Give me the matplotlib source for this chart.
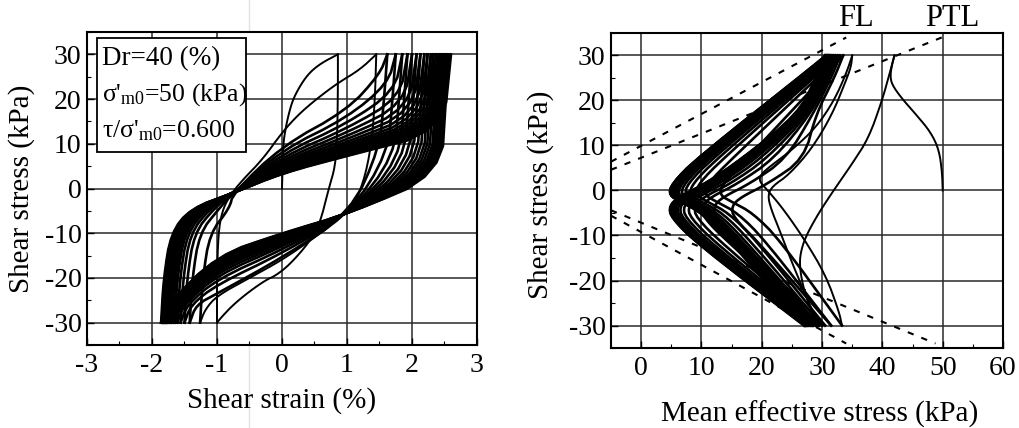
import numpy as np
import matplotlib
matplotlib.use("Agg")
import matplotlib.pyplot as plt
from matplotlib.ticker import MultipleLocator
from matplotlib.patches import Rectangle
from matplotlib.lines import Line2D

plt.rcParams['font.family'] = ['Liberation Serif', 'DejaVu Serif']
plt.rcParams['mathtext.fontset'] = 'custom'
plt.rcParams['mathtext.rm'] = 'Liberation Serif'
plt.rcParams['mathtext.it'] = 'Liberation Serif'
plt.rcParams['axes.unicode_minus'] = False

# ---------------- left panel: shear stress vs shear strain ----------------
# first two cycles, read point by point
load1_g = [0.0, 0.01, 0.02, 0.05, 0.1, 0.17, 0.3, 0.43, 0.6, 0.86]
load1_t = [0, 5, 10, 13, 16.5, 20, 23.5, 26, 28, 30]
unload1_g = [0.86, 0.86, 0.85, 0.82, 0.72, 0.58, 0.42, 0.12, -0.1, -0.24, -0.5, -0.75, -0.92, -1.0]
unload1_t = [30, 22, 12, 5, 0, -8, -12, -17, -19.5, -20.4, -23, -26, -28.6, -30]
load2_g = [-1.0, -1.0, -0.98, -0.92, -0.8, -0.6, -0.3, 0.0, 0.25, 0.53, 0.85, 1.2, 1.45]
load2_t = [-30, -20, -10, -5, -1.5, 2, 6.5, 12.5, 16.5, 20, 23.5, 26.6, 30]
unload2_g = [1.45, 1.43, 1.38, 1.25, 1.05, 0.5, 0.0, -0.5, -1.0, -1.18, -1.26]
unload2_t = [30, 20, 10, 1, -5, -11, -16, -20, -24, -27, -30]

# later cycles: strain at -30 / +30 kPa, stress where branches cross 0 % and 1 %
cyc_gbot = [-1.26, -1.42, -1.5, -1.56, -1.61, -1.65, -1.68, -1.71, -1.73, -1.75,
            -1.77, -1.78, -1.79, -1.8, -1.81, -1.82, -1.83, -1.84, -1.85, -1.86]
cyc_gtop = [1.62, 1.75, 1.85, 1.93, 2.0, 2.07, 2.13, 2.19, 2.24, 2.29,
            2.33, 2.37, 2.41, 2.44, 2.47, 2.5, 2.52, 2.55, 2.57, 2.6]
load_t0 = [9.5, 8.6, 7.8, 7.1, 6.5, 6.0, 5.6, 5.2, 4.9, 4.6, 4.4, 4.2, 4.0, 3.9, 3.8, 3.7, 3.6, 3.5, 3.5, 3.4]
load_t1 = [17.5, 15.8, 14.5, 13.4, 12.5, 11.7, 11.0, 10.4, 9.9, 9.5, 9.1, 8.8, 8.5, 8.2, 8.0, 7.8, 7.6, 7.5, 7.4, 7.3]
load_tk = [25.5, 23.5, 21.8, 20.3, 19.0, 18.0, 17.2, 16.5, 15.9, 15.4, 15.0, 14.6, 14.3, 14.0, 13.7, 13.5, 13.3, 13.1, 13.0, 12.8]
unl_tk = [9, 8, 7.2, 6.5, 6, 5.5, 5.1, 4.8, 4.5, 4.3, 4.1, 3.9, 3.8, 3.7, 3.6, 3.5, 3.4, 3.3, 3.2]
unl_t0 = [-15.5, -14.5, -13.7, -13.0, -12.5, -12.0, -11.7, -11.4, -11.2, -11.0,
          -10.8, -10.7, -10.6, -10.5, -10.4, -10.3, -10.2, -10.1, -10.0]
unl_t1 = [-23.5, -21.5, -20.3, -19.4, -18.7, -18.1, -17.6, -17.2, -16.8, -16.5,
          -16.2, -16.0, -15.8, -15.6, -15.4, -15.3, -15.2, -15.1, -15.0]
neck_load = (-0.75, -1.0)
neck_unload = (1.05, -5.5)

# ---------------- right panel: stress path ----------------
path0_p = [50, 49.9, 49.4, 48, 45.5, 43.2, 41.6, 41.3, 41.6, 42]
path0_t = [0, 4, 9, 13, 17, 20.5, 23.5, 25.5, 28, 30]
sp_unl1_p = [42, 41.2, 39.9, 37.7, 35, 33.3, 31, 29, 27.2, 26.4, 26.3, 26.8, 27.6, 28.5, 29.5]
sp_unl1_t = [30, 26, 19.8, 11.6, 6, 2.7, -1.8, -6, -10.5, -14, -17, -21, -24.5, -27.5, -30]
sp_load2_p = [29.5, 27.5, 25, 23, 21.5, 21, 21.8, 24.5, 28.3, 31.6, 33.9, 34.8, 35]
sp_load2_t = [-30, -24, -16, -9, -4, -1, 1, 3.5, 9.3, 16.7, 24.2, 27.5, 30]
sp_unl2_p = [35, 34, 32, 29, 25, 21.5, 19.8, 19.6, 21, 23.5, 27, 30.6, 32.8, 33.3]
sp_unl2_t = [30, 26, 20, 14, 9, 5.5, 3.5, 2, 0, -4, -10.7, -18.8, -26.9, -30]

sp_pbot = [33.3, 31.5, 30.5, 30.0, 29.5, 29.2, 28.9, 28.6, 28.4, 28.2, 28.0, 27.8, 27.6, 27.4, 27.3, 27.2, 27.1, 27.0]
sp_ptop = [33.5, 33.0, 32.6, 32.3, 32.0, 31.8, 31.6, 31.4, 31.3, 31.2, 31.1, 31.0, 30.9, 30.8, 30.7, 30.6, 30.5, 30.5]
sp_vload = [13.0, 10.5, 9.0, 8.0, 7.2, 6.6, 6.1, 5.7, 5.4, 5.2, 5.0, 4.9, 4.8, 4.75, 4.7, 4.65, 4.6, 4.6]
sp_vunl = [15.0, 12.0, 10.0, 8.8, 7.8, 7.0, 6.4, 6.0, 5.6, 5.3, 5.1, 5.0, 4.9, 4.8, 4.75, 4.7, 4.65]

# failure line / phase transformation line (dashed)
fl_up_p, fl_up_t = [-5, 34], [6.4, 34]
ptl_up_p, ptl_up_t = [-5, 50.2], [4.6, 34.2]
fl_lo_p, fl_lo_t = [-5, 34], [-5.6, -34]
ptl_lo_p, ptl_lo_t = [-5, 48.8], [-4.4, -34]


def smooth(x, y, n=2):
    # Chaikin corner cutting, keeps the end points
    pts = np.column_stack([x, y]).astype(float)
    for _ in range(n):
        q = 0.75 * pts[:-1] + 0.25 * pts[1:]
        r = 0.25 * pts[:-1] + 0.75 * pts[1:]
        mid = np.empty((2 * len(q), 2))
        mid[0::2] = q
        mid[1::2] = r
        pts = np.vstack([pts[0], mid, pts[-1]])
    return pts[:, 0], pts[:, 1]


def style_axes(ax):
    ax.tick_params(which='both', direction='in', top=False, right=False)
    ax.tick_params(which='major', length=5, width=1.0, labelsize=20)
    ax.tick_params(which='minor', length=3, width=0.8)
    ax.tick_params(axis='x', pad=6)
    ax.tick_params(axis='y', pad=4)
    ax.grid(True, which='major', color='#2a2a2a', lw=1.1)
    for s in ax.spines.values():
        s.set_linewidth(1.5)


fig = plt.figure(figsize=(10.2, 4.28), dpi=100)
ax1 = fig.add_axes([87 / 1020, 83 / 428, 390 / 1020, 313 / 428])
ax2 = fig.add_axes([611 / 1020, 80 / 428, 392 / 1020, 315 / 428])

lw = 1.9
# ---- left panel
for g, t in [(load1_g, load1_t), (unload1_g, unload1_t), (load2_g, load2_t), (unload2_g, unload2_t)]:
    ax1.plot(*smooth(g, t), color='k', lw=1.4)

for k in range(len(cyc_gtop)):
    gb, gt = cyc_gbot[k], cyc_gtop[k]
    g = [gb, gb + 0.04, gb + 0.15, gb + 0.45, neck_load[0], 0, 1, gt - 0.12, gt]
    t = [-30, -20, -10, -4.5, neck_load[1], load_t0[k], load_t1[k], load_tk[k], 30]
    ax1.plot(*smooth(g, t), color='k', lw=lw)
    if k + 1 < len(cyc_gbot):
        gn = cyc_gbot[k + 1]
        g = [gt, gt - 0.05, gt - 0.12, neck_unload[0], 0, -1, gn + 0.1, gn]
        t = [30, 20, unl_tk[k], neck_unload[1], unl_t0[k], unl_t1[k], -26, -30]
        ax1.plot(*smooth(g, t), color='k', lw=lw)

ax1.set_xlim(-3, 3)
ax1.set_ylim(-35, 35)
ax1.xaxis.set_major_locator(MultipleLocator(1))
ax1.xaxis.set_minor_locator(MultipleLocator(0.5))
ax1.yaxis.set_major_locator(MultipleLocator(10))
ax1.yaxis.set_minor_locator(MultipleLocator(5))
style_axes(ax1)
ax1.set_xlabel('Shear strain (%)', fontsize=21)
ax1.set_ylabel('Shear stress (kPa)', fontsize=21)
ax1.xaxis.set_label_coords(0.5, -0.179)
ax1.xaxis.label.set_verticalalignment('center')
ax1.yaxis.set_label_coords(-0.167, 0.5)
ax1.yaxis.label.set_verticalalignment('center')

ax1.add_patch(Rectangle((0.026, 0.617), 0.382, 0.364, transform=ax1.transAxes,
                        facecolor='white', edgecolor='k', lw=1.3, zorder=5))
ax1.text(0.038, 0.915, 'Dr=40 (%)', transform=ax1.transAxes, fontsize=19.5, va='center', zorder=6)
ax1.text(0.038, 0.800, "σ'$_{\\mathrm{m0}}$=50 (kPa)", transform=ax1.transAxes,
         fontsize=18.5, va='center', zorder=6)
ax1.text(0.038, 0.685, "τ/σ'$_{\\mathrm{m0}}$=0.600", transform=ax1.transAxes,
         fontsize=18.5, va='center', zorder=6)

# ---- right panel
for p, t in [(fl_up_p, fl_up_t), (ptl_up_p, ptl_up_t), (fl_lo_p, fl_lo_t), (ptl_lo_p, ptl_lo_t)]:
    ax2.plot(p, t, color='k', lw=1.5, ls=(0, (3, 4)))

for p, t in [(path0_p, path0_t), (sp_unl1_p, sp_unl1_t), (sp_load2_p, sp_load2_t), (sp_unl2_p, sp_unl2_t)]:
    ax2.plot(*smooth(p, t), color='k', lw=1.4)

for k in range(len(sp_ptop)):
    pb, pt, vl = sp_pbot[k], sp_ptop[k], sp_vload[k]
    p = [pb, vl + 10, vl + 5.5, vl + 2, vl, vl + 0.5, vl + 4.5, pt - 0.5, pt]
    t = [-30, -11, -5, -2.5, -1, 1.5, 7, 29.2, 30]
    ax2.plot(*smooth(p, t), color='k', lw=lw)
    if k < len(sp_vunl):
        vu, pn = sp_vunl[k], sp_pbot[k + 1]
        p = [pt, pt - 1.5, pt - 4.5, vu + 12, vu + 6, vu + 1.5, vu, vu + 0.3, vu + 4.8, pn]
        t = [30, 25, 17, 7, 1.5, -1.5, -3.5, -6, -12, -30]
        ax2.plot(*smooth(p, t), color='k', lw=lw)

ax2.set_xlim(-5, 60)
ax2.set_ylim(-35, 35)
ax2.xaxis.set_major_locator(MultipleLocator(10))
ax2.xaxis.set_minor_locator(MultipleLocator(5))
ax2.yaxis.set_major_locator(MultipleLocator(10))
ax2.yaxis.set_minor_locator(MultipleLocator(5))
style_axes(ax2)
ax2.set_xlabel('Mean effective stress (kPa)', fontsize=21)
ax2.set_ylabel('Shear stress (kPa)', fontsize=21)
ax2.xaxis.set_label_coords(0.533, -0.21)
ax2.xaxis.label.set_verticalalignment('center')
ax2.yaxis.set_label_coords(-0.179, 0.486)
ax2.yaxis.label.set_verticalalignment('center')

ax2.text(35.6, 38.3, 'FL', fontsize=22, ha='center', va='center', clip_on=False)
ax2.text(51.5, 38.3, 'PTL', fontsize=22, ha='center', va='center', clip_on=False)

# faint scanner streak
fig.add_artist(Line2D([249 / 1020, 249 / 1020], [0, 1], color='#e2e2e2', lw=1.0, zorder=0))

fig.savefig('out.png', dpi=100)
